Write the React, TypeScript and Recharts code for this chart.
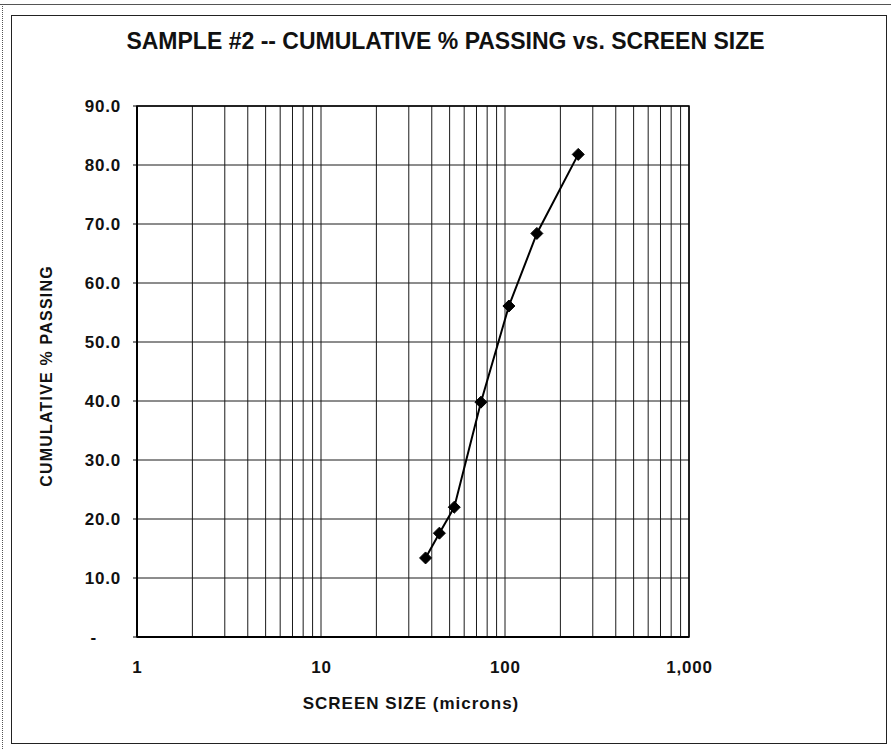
import React from "react";
import {
  CartesianGrid,
  Line,
  LineChart,
  ReferenceArea,
  XAxis,
  YAxis,
} from "recharts";

// screen openings (microns) and cumulative % passing
const sizes = [37, 44, 53, 74, 105, 149, 250];
const passing = [13.4, 17.6, 22.0, 39.8, 56.1, 68.4, 81.8];

// log grid: every integer step inside each decade
const xTicks = [
  1, 2, 3, 4, 5, 6, 7, 8, 9,
  10, 20, 30, 40, 50, 60, 70, 80, 90,
  100, 200, 300, 400, 500, 600, 700, 800, 900,
  1000,
];
const xLabels: Record<number, string> = { 1: "1", 10: "10", 100: "100", 1000: "1,000" };
const yTicks = [0, 10, 20, 30, 40, 50, 60, 70, 80, 90];

const FONT = "'Liberation Sans', Arial, Helvetica, sans-serif";

const data = sizes.map((s, i) => ({ size: s, passing: passing[i] }));

function XTick(props: any) {
  const { x, y, payload } = props;
  const label = xLabels[payload.value];
  if (!label) return null;
  return (
    <text
      x={x + 0.4}
      y={y + 28}
      textAnchor="middle"
      fontFamily={FONT}
      fontWeight="bold"
      fontSize={17}
      letterSpacing={0.8}
      fill="#111"
    >
      {label}
    </text>
  );
}

function YTick(props: any) {
  const { x, y, payload } = props;
  // accounting style: zero shows as a dash
  const label = payload.value === 0 ? "-" : payload.value.toFixed(1);
  return (
    <text
      x={payload.value === 0 ? x - 34 : x - 10}
      y={y + 6}
      textAnchor="end"
      fontFamily={FONT}
      fontWeight="bold"
      fontSize={17}
      letterSpacing={0.8}
      fill="#111"
    >
      {label}
    </text>
  );
}

function Diamond(props: any) {
  const { cx, cy, index } = props;
  const r = 6;
  return (
    <polygon
      key={`d-${index}`}
      points={`${cx},${cy - r} ${cx + r},${cy} ${cx},${cy + r} ${cx - r},${cy}`}
      fill="#000"
      stroke="#000"
      strokeWidth={1}
    />
  );
}

export default function App() {
  return (
    <div
      style={{
        position: "absolute",
        left: 0,
        top: 0,
        width: 891,
        height: 749,
        background: "#fff",
        fontFamily: FONT,
        overflow: "hidden",
      }}
    >
      {/* scanned page edges */}
      <div style={{ position: "absolute", left: 0, top: 4, width: 891, borderTop: "1px solid #555" }} />
      <div style={{ position: "absolute", left: 2, top: 4, height: 745, borderLeft: "1px dotted #555" }} />
      {/* chart frame */}
      <div
        style={{
          position: "absolute",
          left: 11,
          top: 15,
          width: 874,
          height: 727,
          border: "1px solid #222",
        }}
      />

      <div
        style={{
          position: "absolute",
          left: 0,
          top: 28,
          width: 891,
          textAlign: "center",
          fontWeight: "bold",
          fontSize: 23,
          color: "#111",
        }}
      >
        SAMPLE #2 -- CUMULATIVE % PASSING vs. SCREEN SIZE
      </div>

      <div
        style={{
          position: "absolute",
          left: 47,
          top: 376,
          transform: "translate(-50%, -50%) rotate(-90deg)",
          whiteSpace: "nowrap",
          fontWeight: "bold",
          fontSize: 16,
          letterSpacing: 1.2,
          color: "#111",
        }}
      >
        CUMULATIVE % PASSING
      </div>

      <div
        style={{
          position: "absolute",
          left: 261,
          top: 694,
          width: 300,
          textAlign: "center",
          fontWeight: "bold",
          fontSize: 17,
          letterSpacing: 1,
          color: "#111",
        }}
      >
        SCREEN SIZE (microns)
      </div>

      <div style={{ position: "absolute", left: 0, top: 0 }}>
        <LineChart
          width={891}
          height={749}
          data={data}
          margin={{ top: 106, right: 202, left: 77, bottom: 82 }}
        >
          <CartesianGrid stroke="#1a1a1a" strokeWidth={1} />
          <XAxis
            dataKey="size"
            type="number"
            scale="log"
            domain={[1, 1000]}
            ticks={xTicks}
            interval={0}
            height={30}
            tickLine={false}
            axisLine={{ stroke: "#000", strokeWidth: 2 }}
            tick={<XTick />}
            allowDataOverflow
          />
          <YAxis
            type="number"
            domain={[0, 90]}
            ticks={yTicks}
            interval={0}
            width={60}
            tickSize={4}
            tickLine={{ stroke: "#000" }}
            axisLine={{ stroke: "#000", strokeWidth: 2 }}
            tick={<YTick />}
          />
          <ReferenceArea
            x1={1}
            x2={1000}
            y1={0}
            y2={90}
            fill="none"
            stroke="#000"
            strokeWidth={1.5}
            ifOverflow="visible"
          />
          <Line
            type="linear"
            dataKey="passing"
            stroke="#000"
            strokeWidth={2}
            dot={Diamond}
            activeDot={false}
            isAnimationActive={false}
          />
        </LineChart>
      </div>
    </div>
  );
}
